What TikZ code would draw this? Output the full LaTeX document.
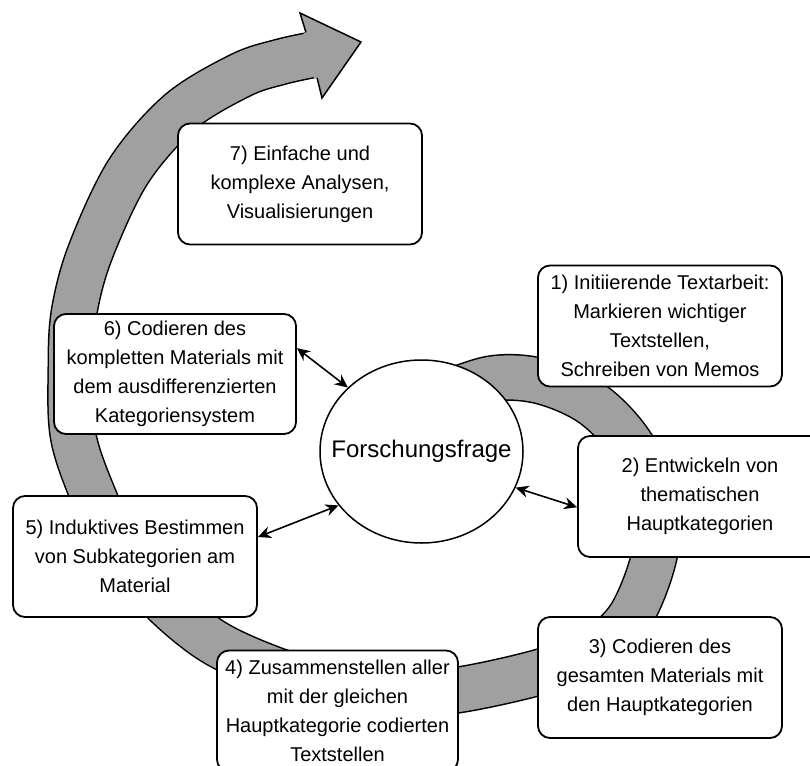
\documentclass[tikz,border=0pt]{standalone}
\usepackage{fontspec}
\setmainfont{Liberation Sans}
\usetikzlibrary{arrows.meta,shapes.geometric}
\definecolor{bandgray}{RGB}{160,160,160}
\newcommand\colorBand{bandgray}
\newcommand\colorBandline{black}
\newcommand\bandWidth{44pt}
\newcommand\bandOutline{47pt}
\tikzset{
	phasebox/.style={draw, line width=1.8pt, rounded corners=12pt, fill=white,
		minimum width=244pt, minimum height=121pt, inner sep=0pt, align=center,
		font=\fontsize{20}{29}\selectfont},
	frageellipse/.style={ellipse, draw, line width=1.5pt, fill=white,
		minimum width=203pt, minimum height=183pt, inner sep=0pt,
		font=\fontsize{24}{29}\selectfont},
	link/.style={{Stealth[length=13pt,width=12pt]}-{Stealth[length=13pt,width=12pt]}, line width=1.6pt}
}

\begin{document}
\begin{tikzpicture}[x=1pt,y=-1pt]
	\useasboundingbox (0,0) rectangle (810,765);

	% spiral band
	\draw[line width=\bandWidth, color=\colorBand,
		preaction={draw=\colorBandline, line width=\bandOutline}]
		plot[smooth, tension=0.55] coordinates {
			(430,400) (490,379) (540,381) (591,403) (630,443) (657,500)
			(654,557) (630,617) (592,652) (540,672) (458,690) (395,694)
			(330,686) (270,668) (212,641) (162,600) (120,550) (93,495)
			(73,435) (71,367) (74,313) (90,253) (128,172) (180,112)
			(241,75) (280,62) (311.5,55)};
	% head, filled a little behind the join
	\fill[\colorBand] (303.0,34.0) -- (305.9,32.2) -- (300,13) -- (361,42)
		-- (322,98) -- (317.1,77.8) -- (314.0,78.5) -- cycle;
	\draw[color=\colorBandline, line width=1.5pt]
		(305.9,32.2) -- (300,13) -- (361,42) -- (322,98) -- (317.1,77.8);

	\node[phasebox] (p1) at (660,326) {1) Initiierende Textarbeit:\\Markieren wichtiger\\Textstellen,\\Schreiben von Memos};
	\node[phasebox] (p2) at (700,496.5) {2) Entwickeln von\\thematischen\\Hauptkategorien};
	\node[phasebox] (p3) at (660,677.5) {3) Codieren des\\gesamten Materials mit\\den Hauptkategorien};
	\node[phasebox, minimum width=241pt] (p4) at (337.5,711) {4) Zusammenstellen aller\\mit der gleichen\\Hauptkategorie codierten\\Textstellen};
	\node[phasebox] (p5) at (135,556.5) {5) Induktives Bestimmen\\von Subkategorien am\\Material};
	\node[phasebox, minimum width=242pt, minimum height=120pt] (p6) at (175,374) {6) Codieren des\\kompletten Materials mit\\dem ausdifferenzierten\\Kategoriensystem};
	\node[phasebox] (p7) at (300,184) {7) Einfache und\\komplexe Analysen,\\Visualisierungen};

	\node[frageellipse] (frage) at (421.5,451.5) {\makebox[0pt]{Forschungsfrage}};

	\draw[link] (p6.12) -- (frage.139);
	\draw[link] (p5.9) -- (frage.213);
	\draw[link] (frage.-21) -- (p2.185);
\end{tikzpicture}
\end{document}
